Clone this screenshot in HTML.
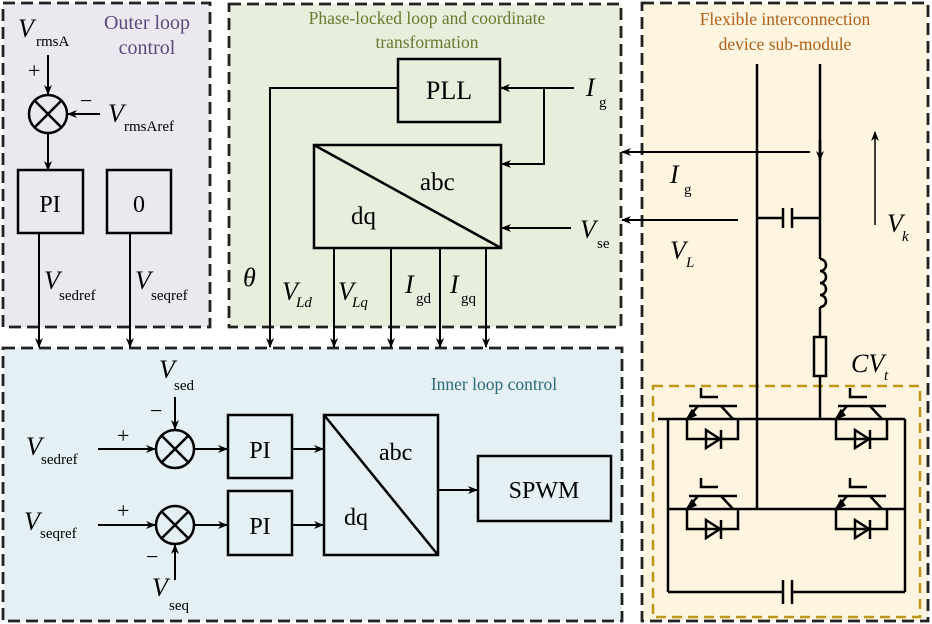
<!DOCTYPE html>
<html><head><meta charset="utf-8"><style>
html,body{margin:0;padding:0;background:#fff}
svg{display:block}
text{font-family:"Liberation Serif",serif;fill:#000}
.i{font-style:italic}
</style></head><body>
<svg width="932" height="624" viewBox="0 0 932 624" xmlns="http://www.w3.org/2000/svg">
<defs>
<marker id="a" markerWidth="10" markerHeight="10" refX="9" refY="5" orient="auto" markerUnits="userSpaceOnUse"><path d="M0,1 L10,5 L0,9 L3,5 Z" fill="#000"/></marker>
<g id="igbt" stroke="#000" stroke-width="2.5" fill="none">
<line x1="0" y1="0" x2="48" y2="0"/>
<polyline points="12,-18 12,-9 29,-9"/>
<line x1="9" y1="0" x2="-2" y2="13"/>
<line x1="32" y1="0" x2="44" y2="13"/>
<polyline points="-2,13 -2,33 49,33 49,13"/>
<path d="M17,24 L31,33 L17,42 Z"/>
<line x1="32" y1="24" x2="32" y2="43"/>
<path d="M3,5 L-1,12 L6,9 Z" fill="#000"/>
</g>
</defs>
<!-- panels -->
<rect x="3" y="3" width="207" height="324" fill="#ece8f0" stroke="#222" stroke-width="2.8" stroke-dasharray="12,6"/>
<rect x="229" y="4" width="392" height="323" fill="#e8eedc" stroke="#222" stroke-width="2.8" stroke-dasharray="12,6"/>
<rect x="642" y="3" width="286" height="618" fill="#fdf5e0" stroke="#222" stroke-width="2.8" stroke-dasharray="12,6"/>
<rect x="3" y="348" width="619" height="273" fill="#e4f0f4" stroke="#222" stroke-width="2.8" stroke-dasharray="12,6"/>
<rect x="653" y="386" width="267" height="231" fill="none" stroke="#c0961a" stroke-width="2.5" stroke-dasharray="10,6"/>

<!-- titles -->
<text x="147" y="29" font-size="20" text-anchor="middle" style="fill:#5a4a80">Outer loop</text>
<text x="147" y="54" font-size="20" text-anchor="middle" style="fill:#5a4a80">control</text>
<text x="427" y="24" font-size="17.5" text-anchor="middle" style="fill:#6a7a30">Phase-locked loop and coordinate</text>
<text x="427" y="48" font-size="17.5" text-anchor="middle" style="fill:#6a7a30">transformation</text>
<text x="785" y="25" font-size="17.5" text-anchor="middle" style="fill:#b0601a">Flexible interconnection</text>
<text x="785" y="50" font-size="17.5" text-anchor="middle" style="fill:#b0601a">device sub-module</text>
<text x="494" y="390" font-size="17.5" text-anchor="middle" style="fill:#2a6a7a">Inner loop control</text>

<g stroke="#000" stroke-width="2" fill="none">
<!-- outer loop -->
<line x1="48" y1="55" x2="48" y2="94" marker-end="url(#a)"/>
<line x1="100" y1="114" x2="68" y2="114" marker-end="url(#a)"/>
<circle cx="48" cy="114" r="19" stroke-width="2.5"/>
<line x1="35" y1="101" x2="61" y2="127" stroke-width="2.5"/><line x1="61" y1="101" x2="35" y2="127" stroke-width="2.5"/>
<line x1="48" y1="133" x2="48" y2="170" marker-end="url(#a)"/>
<rect x="18" y="170" width="65" height="63" stroke-width="2.5"/>
<rect x="107" y="170" width="64" height="63" stroke-width="2.5"/>
<line x1="39" y1="233" x2="39" y2="347" marker-end="url(#a)"/>
<line x1="130" y1="233" x2="130" y2="347" marker-end="url(#a)"/>
<!-- PLL -->
<rect x="398" y="59" width="102" height="63" stroke-width="2.5"/>
<rect x="314" y="145" width="187" height="103" stroke-width="2.5"/>
<line x1="314" y1="145" x2="501" y2="248" stroke-width="2.5"/>
<polyline points="398,88 270,88 270,347" marker-end="url(#a)"/>
<line x1="574" y1="88" x2="501" y2="88" marker-end="url(#a)"/>
<polyline points="544,88 544,164 502,164" marker-end="url(#a)"/>
<line x1="571" y1="228" x2="502" y2="228" marker-end="url(#a)"/>
<line x1="334" y1="248" x2="334" y2="347" marker-end="url(#a)"/>
<line x1="391" y1="248" x2="391" y2="347" marker-end="url(#a)"/>
<line x1="440" y1="248" x2="440" y2="347" marker-end="url(#a)"/>
<line x1="486" y1="248" x2="486" y2="347" marker-end="url(#a)"/>
<!-- inner loop -->
<line x1="98" y1="449" x2="155" y2="449" marker-end="url(#a)"/>
<line x1="98" y1="525" x2="155" y2="525" marker-end="url(#a)"/>
<line x1="175" y1="397" x2="175" y2="429" marker-end="url(#a)"/>
<line x1="175" y1="580" x2="175" y2="545" marker-end="url(#a)"/>
<circle cx="175" cy="449" r="19" stroke-width="2.5"/>
<line x1="162" y1="436" x2="188" y2="462" stroke-width="2.5"/><line x1="188" y1="436" x2="162" y2="462" stroke-width="2.5"/>
<circle cx="175" cy="525" r="19" stroke-width="2.5"/>
<line x1="162" y1="512" x2="188" y2="538" stroke-width="2.5"/><line x1="188" y1="512" x2="162" y2="538" stroke-width="2.5"/>
<line x1="194" y1="449" x2="227" y2="449" marker-end="url(#a)"/>
<line x1="194" y1="525" x2="227" y2="525" marker-end="url(#a)"/>
<rect x="228" y="415" width="64" height="63" stroke-width="2.5"/>
<rect x="228" y="491" width="64" height="64" stroke-width="2.5"/>
<line x1="292" y1="449" x2="323" y2="449" marker-end="url(#a)"/>
<line x1="292" y1="525" x2="323" y2="525" marker-end="url(#a)"/>
<rect x="324" y="415" width="114" height="140" stroke-width="2.5"/>
<line x1="324" y1="415" x2="438" y2="555" stroke-width="2.5"/>
<line x1="438" y1="490" x2="477" y2="490" marker-end="url(#a)"/>
<rect x="478" y="456" width="133" height="65" stroke-width="2.5"/>
<!-- right panel connections -->
<line x1="810" y1="152" x2="622" y2="152" stroke-width="2" marker-end="url(#a)"/>
<line x1="738" y1="220" x2="622" y2="220" stroke-width="2" marker-end="url(#a)"/>
<g stroke-width="2.5">
<line x1="757" y1="64" x2="757" y2="509"/>
<line x1="820" y1="64" x2="820" y2="259"/>
<polyline points="757,218 783,218"/><line x1="783" y1="208" x2="783" y2="228"/><line x1="792" y1="208" x2="792" y2="228"/><line x1="792" y1="218" x2="820" y2="218"/>
<path d="M820,259 a6,6 0 0 1 0,12 a6,6 0 0 1 0,12 a6,6 0 0 1 0,12 a6,6 0 0 1 0,12"/>
<line x1="820" y1="307" x2="820" y2="337"/>
<rect x="814" y="337" width="12" height="39" fill="#fdf5e0"/>
<line x1="820" y1="376" x2="820" y2="419"/>
<line x1="658" y1="419" x2="905" y2="419"/>
<line x1="668" y1="419" x2="668" y2="592"/>
<line x1="905" y1="419" x2="905" y2="592"/>
<line x1="668" y1="509" x2="905" y2="509"/>
<line x1="668" y1="592" x2="783" y2="592"/><line x1="792" y1="592" x2="905" y2="592"/>
<line x1="783" y1="580" x2="783" y2="604"/><line x1="792" y1="580" x2="792" y2="604"/>
</g>
<line x1="820" y1="140" x2="820" y2="160" marker-end="url(#a)" stroke-width="2.5"/>
<line x1="875" y1="225" x2="875" y2="132" marker-end="url(#a)" stroke-width="1.5"/>
</g>
<use href="#igbt" x="689" y="406"/>
<use href="#igbt" x="838" y="406"/>
<use href="#igbt" x="689" y="496"/>
<use href="#igbt" x="838" y="496"/>

<!-- labels -->
<g font-size="26">
<text x="18" y="37" class="i">V</text><text x="36" y="46" font-size="15">rmsA</text>
<text x="28" y="78" font-size="22">+</text>
<text x="80" y="108" font-size="22">−</text>
<text x="108" y="122" class="i">V</text><text x="124" y="131" font-size="15">rmsAref</text>
<text x="50" y="212" text-anchor="middle" font-size="24">PI</text>
<text x="139" y="212" text-anchor="middle" font-size="24">0</text>
<text x="44" y="289" class="i">V</text><text x="59" y="300" font-size="15">sedref</text>
<text x="135" y="289" class="i">V</text><text x="151" y="300" font-size="15">seqref</text>
<text x="449" y="99" text-anchor="middle" font-size="26">PLL</text>
<text x="420" y="190" font-size="25">abc</text>
<text x="351" y="224" font-size="25">dq</text>
<text x="586" y="96" class="i">I</text><text x="599" y="107" font-size="15">g</text>
<text x="580" y="238" class="i">V</text><text x="597" y="248" font-size="15">se</text>
<text x="243" y="286" class="i">θ</text>
<text x="282" y="300" class="i">V</text><text x="296" y="307" font-size="15" class="i">Ld</text>
<text x="338" y="300" class="i">V</text><text x="352" y="307" font-size="15" class="i">Lq</text>
<text x="405" y="293" class="i">I</text><text x="416" y="303" font-size="15">gd</text>
<text x="450" y="293" class="i">I</text><text x="461" y="303" font-size="15">gq</text>
<text x="159" y="378" class="i">V</text><text x="174" y="390" font-size="15">sed</text>
<text x="150" y="418" font-size="22">−</text>
<text x="117" y="443" font-size="22">+</text>
<text x="26" y="455" class="i">V</text><text x="41" y="464" font-size="15">sedref</text>
<text x="117" y="518" font-size="22">+</text>
<text x="24" y="530" class="i">V</text><text x="40" y="538" font-size="15">seqref</text>
<text x="146" y="564" font-size="22">−</text>
<text x="152" y="596" class="i">V</text><text x="169" y="610" font-size="15">seq</text>
<text x="260" y="458" text-anchor="middle" font-size="24">PI</text>
<text x="260" y="534" text-anchor="middle" font-size="24">PI</text>
<text x="379" y="460" font-size="24">abc</text>
<text x="344" y="525" font-size="24">dq</text>
<text x="544" y="498" text-anchor="middle" font-size="24">SPWM</text>
<text x="670" y="183" class="i">I</text><text x="684" y="194" font-size="15">g</text>
<text x="670" y="259" class="i">V</text><text x="686" y="267" font-size="15" class="i">L</text>
<text x="887" y="232" class="i">V</text><text x="902" y="241" font-size="15" class="i">k</text>
<text x="851" y="372" class="i">CV</text><text x="884" y="380" font-size="15" class="i">t</text>
</g>
</svg>
</body></html>
